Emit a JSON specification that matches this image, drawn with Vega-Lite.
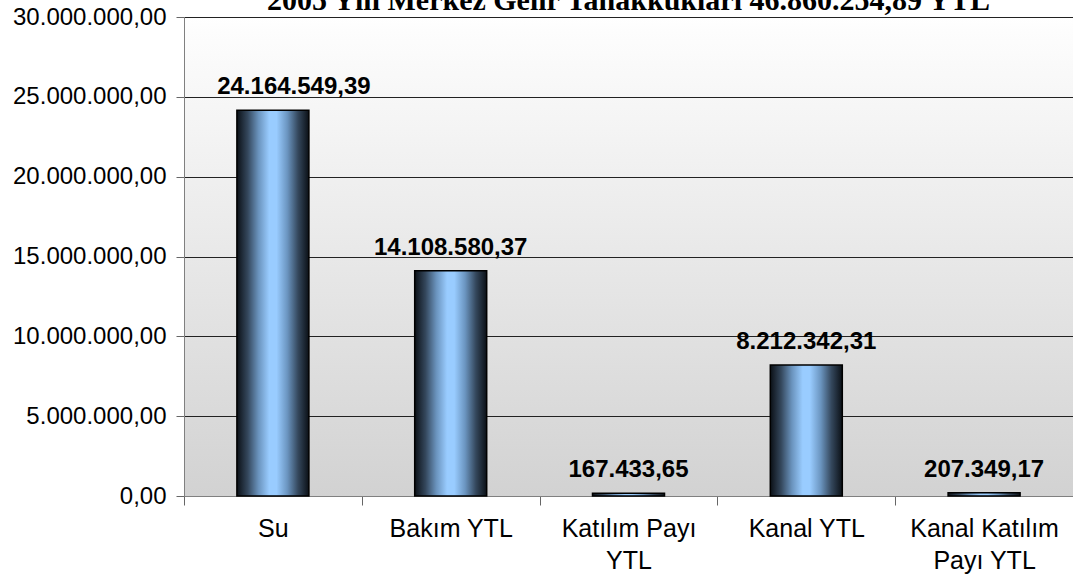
{
  "$schema": "https://vega.github.io/schema/vega-lite/v6.json",
  "width": 889,
  "height": 479,
  "autosize": {"type": "none"},
  "padding": {"left": 184, "top": 17, "right": 0, "bottom": 81},
  "background": "white",
  "view": {
    "stroke": null,
    "fill": {"gradient": "linear", "x1": 0, "y1": 0, "x2": 0, "y2": 1,
      "stops": [{"offset": 0, "color": "#ffffff"}, {"offset": 0.03, "color": "#fdfdfd"}, {"offset": 1, "color": "#d2d2d2"}]}
  },
  "title": {
    "text": "2005 Yılı Merkez Gelir Tahakkukları 46.860.254,89 YTL",
    "font": "Liberation Serif",
    "fontSize": 30,
    "fontWeight": "bold",
    "color": "black",
    "anchor": "middle",
    "frame": "group",
    "baseline": "alphabetic",
    "offset": 0,
    "dy": 35
  },
  "config": {
    "locale": {"number": {"decimal": ",", "thousands": ".", "grouping": [3], "currency": ["", " YTL"]}}
  },
  "data": {
    "values": [
      {"kategori": "Su", "tutar": 24164549.39},
      {"kategori": "Bakım YTL", "tutar": 14108580.37},
      {"kategori": "Katılım Payı YTL", "tutar": 167433.65},
      {"kategori": "Kanal YTL", "tutar": 8212342.31},
      {"kategori": "Kanal Katılım Payı YTL", "tutar": 207349.17}
    ]
  },
  "encoding": {
    "x": {
      "field": "kategori", "type": "nominal", "sort": null,
      "scale": {"paddingInner": 0, "paddingOuter": 0},
      "axis": {
        "title": null, "labelAngle": 0, "labelFont": "Liberation Sans", "labelFontSize": 25,
        "labelColor": "black", "labelPadding": 11, "labelLineHeight": 32,
        "tickBand": "extent", "tickSize": 9, "tickColor": "#666666", "domainColor": "#808080",
        "labelExpr": "datum.label == 'Katılım Payı YTL' ? ['Katılım Payı', 'YTL'] : datum.label == 'Kanal Katılım Payı YTL' ? ['Kanal Katılım', 'Payı YTL'] : datum.label"
      }
    },
    "y": {
      "field": "tutar", "type": "quantitative",
      "scale": {"domain": [0, 30000000], "nice": false},
      "axis": {
        "title": null, "format": ",.2f", "values": [0, 5000000, 10000000, 15000000, 20000000, 25000000, 30000000],
        "labelOverlap": false,
        "labelFont": "Liberation Sans", "labelFontSize": 24, "labelColor": "black", "labelPadding": 10,
        "tickSize": 8, "tickColor": "#666666", "domainColor": "#808080",
        "grid": true, "gridColor": "#222222", "gridWidth": 1
      }
    }
  },
  "layer": [
    {
      "mark": {
        "type": "bar",
        "width": {"band": 0.405},
        "stroke": "black",
        "strokeWidth": 1.5,
        "fill": {"gradient": "linear", "x1": 0, "y1": 0, "x2": 1, "y2": 0,
          "stops": [
            {"offset": 0, "color": "#0b1016"},
            {"offset": 0.15, "color": "#34475c"},
            {"offset": 0.3, "color": "#6a93bd"},
            {"offset": 0.45, "color": "#99ccff"},
            {"offset": 0.55, "color": "#99ccff"},
            {"offset": 0.7, "color": "#6b95c0"},
            {"offset": 0.85, "color": "#34475c"},
            {"offset": 1, "color": "#0b1016"}
          ]}
      }
    },
    {
      "transform": [{"filter": "datum.kategori !== 'Su'"}],
      "mark": {"type": "text", "font": "Liberation Sans", "fontSize": 24, "fontWeight": "bold", "color": "black", "baseline": "alphabetic", "dy": -16},
      "encoding": {"text": {"field": "tutar", "type": "quantitative", "format": ",.2f"}}
    },
    {
      "transform": [{"filter": "datum.kategori === 'Su'"}],
      "mark": {"type": "text", "font": "Liberation Sans", "fontSize": 24, "fontWeight": "bold", "color": "black", "baseline": "alphabetic", "dy": -16, "dx": 21},
      "encoding": {"text": {"field": "tutar", "type": "quantitative", "format": ",.2f"}}
    }
  ]
}
